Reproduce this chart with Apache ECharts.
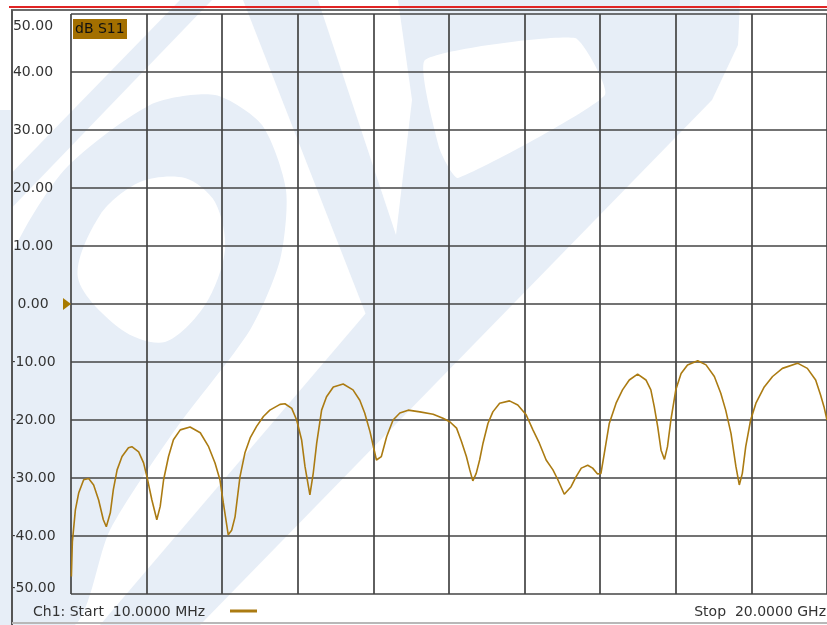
<!DOCTYPE html>
<html>
<head>
<meta charset="utf-8">
<script src="https://cdn.jsdelivr.net/npm/echarts@6/dist/echarts.min.js"></script>
<style>
  html, body { margin: 0; padding: 0; background: #ffffff; }
  #chart { width: 827px; height: 625px; }
</style>
</head>
<body>
<div id="chart"></div>
<script>
// ---- data (frequency in GHz, S11 in dB) ----
const freqGHz = [0.01, 0.036, 0.116, 0.203, 0.335, 0.467, 0.599, 0.731, 0.855, 0.934, 1.04, 1.12, 1.22, 1.35, 1.52, 1.61, 1.79, 1.92, 2.01, 2.14, 2.27, 2.36, 2.45, 2.58, 2.71, 2.89, 3.15, 3.42, 3.64, 3.81, 3.94, 4.03, 4.16, 4.25, 4.34, 4.47, 4.60, 4.74, 4.91, 5.09, 5.26, 5.53, 5.66, 5.84, 5.97, 6.10, 6.19, 6.32, 6.41, 6.50, 6.63, 6.76, 6.94, 7.20, 7.46, 7.64, 7.77, 7.91, 8.08, 8.21, 8.35, 8.52, 8.70, 8.92, 9.23, 9.58, 9.84, 10.02, 10.20, 10.33, 10.46, 10.55, 10.63, 10.72, 10.81, 10.90, 11.03, 11.16, 11.34, 11.60, 11.82, 12.04, 12.22, 12.39, 12.57, 12.75, 12.88, 13.05, 13.23, 13.36, 13.50, 13.67, 13.80, 13.93, 14.02, 14.11, 14.24, 14.42, 14.59, 14.77, 14.99, 15.21, 15.34, 15.43, 15.52, 15.61, 15.70, 15.78, 15.87, 16.00, 16.14, 16.31, 16.58, 16.80, 17.02, 17.19, 17.32, 17.46, 17.59, 17.68, 17.76, 17.85, 17.98, 18.12, 18.34, 18.56, 18.82, 19.22, 19.48, 19.70, 19.83, 19.92, 20.0];
const s11dB = [-47, -41, -35.5, -32.6, -30.3, -30.1, -31.2, -33.8, -37.2, -38.4, -36, -32, -28.6, -26.3, -24.8, -24.6, -25.5, -27.4, -29.8, -33.8, -37.2, -34.9, -30.3, -26.3, -23.4, -21.7, -21.2, -22.2, -24.6, -27.4, -30.3, -34.3, -39.8, -39, -36.7, -29.8, -25.7, -23.1, -21.1, -19.4, -18.3, -17.3, -17.2, -18, -20, -23.4, -28, -32.9, -29.1, -24, -18.3, -16, -14.3, -13.8, -14.8, -16.6, -18.8, -22, -26.9, -26.3, -22.9, -20, -18.8, -18.3, -18.6, -19, -19.7, -20.3, -21.4, -23.7, -26.3, -28.6, -30.5, -29.2, -26.9, -24, -20.6, -18.6, -17.1, -16.7, -17.4, -19.1, -21.7, -24, -26.9, -28.6, -30.3, -32.8, -31.5, -29.8, -28.3, -27.8, -28.3, -29.3, -29.2, -25.7, -20.6, -17.1, -14.8, -13.1, -12.1, -13.1, -14.8, -17.7, -21.1, -25.2, -26.8, -24.6, -20, -14.8, -12, -10.5, -9.8, -10.5, -12.5, -15.4, -18.3, -22.3, -28, -31.2, -29.2, -24.6, -20, -17.1, -14.3, -12.5, -11.1, -10.2, -11.1, -13.1, -15.7, -17.7, -20];
const yTicks = [-50, -40, -30, -20, -10, 0, 10, 20, 30, 40, 50];
const traceName = 'dB S11';
const startText = 'Ch1: Start  10.0000 MHz';
const stopText = 'Stop  20.0000 GHz';

const TRACE = '#ab7b12';
const GRID = '#444444';
const WM = '#e7eef7';
const FONT = 'DejaVu Sans';

const chart = echarts.init(document.getElementById('chart'), null, { renderer: 'canvas' });

function poly(points, fill, z, smooth) {
  return { type: 'polygon', z: z, silent: true, shape: { points: points, smooth: smooth || 0 }, style: { fill: fill } };
}

// faint background logo watermark
const watermark = [
  poly([[0, 110], [12, 110], [12, 625], [0, 625]], WM, -12),
  poly([[0, 185], [180, 0], [212, 0], [0, 220]], WM, -12),
  poly([[0, 290], [60, 175], [150, 105], [215, 95], [262, 125], [286, 190], [280, 260], [250, 330], [175, 430], [110, 530], [75, 625], [0, 625]], WM, -12, 0.25),
  poly([[78, 278], [100, 215], [140, 182], [185, 178], [215, 202], [225, 250], [205, 305], [165, 342], [122, 330]], '#ffffff', -11, 0.3),
  poly([[100, 625], [633, 0], [740, 0], [738, 45], [712, 100], [200, 625]], WM, -12),
  poly([[243, 0], [660, 0], [425, 272], [372, 330]], WM, -12),
  poly([[318, 0], [398, 0], [412, 100], [396, 235]], '#ffffff', -11),
  poly([[425, 60], [575, 38], [605, 95], [458, 178], [440, 150]], '#ffffff', -11, 0.15)
];

function yLabel(v) {
  const s = v.toFixed(2);
  if (v === 50) return '{t|' + s + '}';
  if (v === -50) return '{b|' + s + '}';
  return s;
}

const labelFont = { fontFamily: FONT, fontSize: 14, color: '#333333' };

const option = {
  backgroundColor: '#ffffff',
  animation: false,
  grid: { left: 71, top: 14, width: 757, height: 580, containLabel: false },
  xAxis: {
    type: 'value', min: 0, max: 20, interval: 2,
    axisLine: { show: false }, axisTick: { show: false }, axisLabel: { show: false },
    splitLine: { show: true, lineStyle: { color: GRID, width: 1.7 } }
  },
  yAxis: {
    type: 'value', min: -50, max: 50, interval: 10,
    axisLine: { show: false }, axisTick: { show: false },
    axisLabel: {
      show: true, margin: 38, align: 'center',
      fontFamily: FONT, fontSize: 14, color: '#333333',
      verticalAlignMaxLabel: 'top', verticalAlignMinLabel: 'bottom',
      formatter: function (v) { return yTicks.indexOf(v) >= 0 ? yLabel(v) : ''; },
      rich: {
        t: Object.assign({ lineHeight: 24 }, labelFont),
        b: Object.assign({ lineHeight: 11 }, labelFont)
      }
    },
    splitLine: { show: true, lineStyle: { color: GRID, width: 1.7 } }
  },
  series: [{
    name: traceName, type: 'line', showSymbol: false, symbol: 'none',
    data: freqGHz.map(function (f, i) { return [f, s11dB[i]]; }),
    lineStyle: { color: TRACE, width: 1.6 },
    z: 5
  }],
  graphic: { elements: watermark.concat([
    { type: 'line', z: 20, shape: { x1: 9, y1: 7, x2: 827, y2: 7 }, style: { stroke: '#e02424', lineWidth: 2 } },
    { type: 'line', z: 20, shape: { x1: 11, y1: 10, x2: 827, y2: 10 }, style: { stroke: '#3a3a3a', lineWidth: 1.5 } },
    { type: 'line', z: 20, shape: { x1: 12, y1: 10, x2: 12, y2: 625 }, style: { stroke: '#555555', lineWidth: 2 } },
    { type: 'line', z: 20, shape: { x1: 12, y1: 623, x2: 827, y2: 623 }, style: { stroke: '#b8b8b8', lineWidth: 2 } },
    { type: 'rect', z: 20, shape: { x: 73, y: 19, width: 54, height: 20 }, style: { fill: '#a36f00' } },
    { type: 'text', z: 21, style: { x: 75, y: 29, text: traceName, fill: '#111111', font: '14px "DejaVu Sans"', textVerticalAlign: 'middle', verticalAlign: 'middle' } },
    { type: 'polygon', z: 20, shape: { points: [[63, 298], [71, 304], [63, 310]] }, style: { fill: '#a87a00' } },
    { type: 'text', z: 20, style: { x: 33, y: 612, text: startText, fill: '#333333', font: '14px "DejaVu Sans"', verticalAlign: 'middle', textVerticalAlign: 'middle' } },
    { type: 'line', z: 20, shape: { x1: 230, y1: 611, x2: 257, y2: 611 }, style: { stroke: TRACE, lineWidth: 3 } },
    { type: 'text', z: 20, style: { x: 826, y: 612, text: stopText, fill: '#333333', font: '14px "DejaVu Sans"', align: 'right', textAlign: 'right', verticalAlign: 'middle', textVerticalAlign: 'middle' } }
  ]) }
};
chart.setOption(option);
</script>
</body>
</html>
